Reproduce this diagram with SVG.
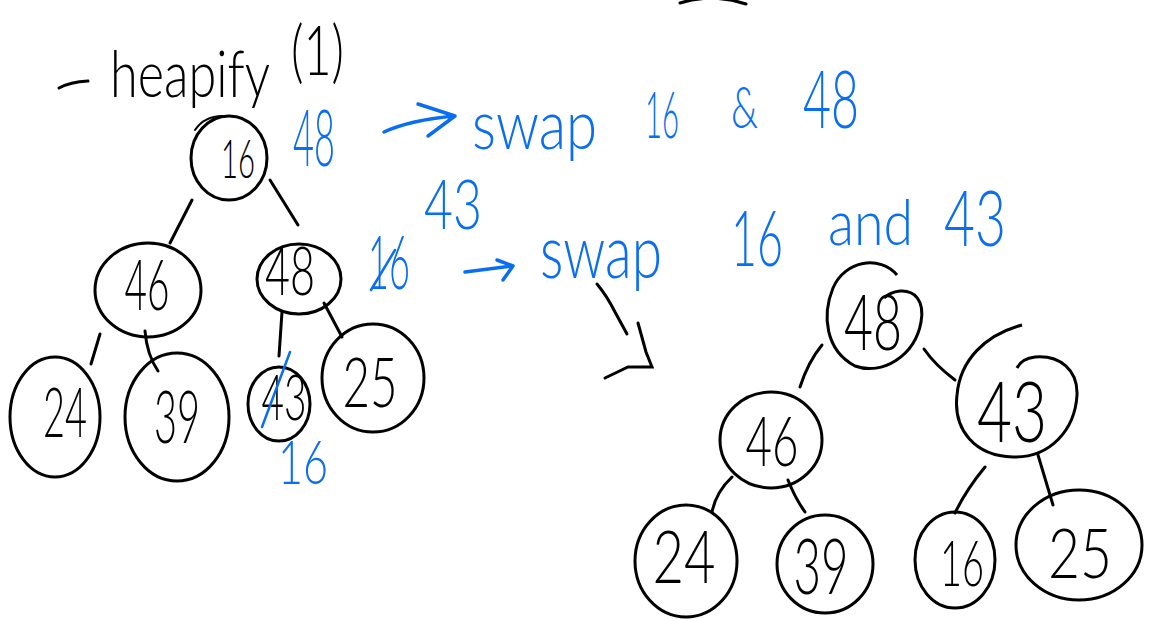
<svg xmlns="http://www.w3.org/2000/svg" width="1151" height="619" viewBox="0 0 1151 619">
<style>
.n{fill:none;stroke:#000;stroke-width:3}
.c{fill:none;stroke:#000;stroke-width:3;stroke-linecap:round}
.t{font-family:"Lato","Liberation Sans",sans-serif;font-weight:300;fill:#000;text-anchor:middle}
.k{font-family:"Lato","Liberation Sans",sans-serif;font-weight:300;fill:#000}
.b{font-family:"Lato","Liberation Sans",sans-serif;font-weight:300;fill:#0A6EF5}
.bl{fill:none;stroke:#0A6EF5;stroke-width:3.5;stroke-linecap:round;stroke-linejoin:round}
</style>
<rect width="1151" height="619" fill="#fff"/>
<!-- title -->
<path class="c" d="M59,88 Q70,82 88,81"/>
<text class="k" x="0" y="0" transform="translate(110,97) scale(1,1.29)" font-size="51" textLength="160" lengthAdjust="spacingAndGlyphs">heapify</text>
<text class="k" x="0" y="0" transform="translate(291,75) scale(1,1.55)" font-size="44" textLength="53" lengthAdjust="spacingAndGlyphs">(1)</text>
<path class="c" d="M680,3 Q712,-7 746,4"/>

<g id="connectors">
<path class="c" d="M192,200 L170,243"/>
<path class="c" d="M270,180 L298,225"/>
<path class="c" d="M100,334 L91,364"/>
<path class="c" d="M145,331 Q147,355 158,371"/>
<path class="c" d="M282,312 L279,356"/>
<path class="c" d="M324,303 L342,337"/>
<path class="c" d="M822,345 Q808,362 800,387"/>
<path class="c" d="M924,349 Q935,365 955,380"/>
<path class="c" d="M732,477 Q716,492 712,512"/>
<path class="c" d="M788,480 Q795,498 805,512"/>
<path class="c" d="M985,467 Q966,490 955,513"/>
<path class="c" d="M1038,455 L1053,505"/>
</g>

<!-- left tree -->
<g id="L16"><ellipse class="n" cx="229" cy="158" rx="38" ry="42"/><path class="c" d="M195,130 Q205,115 225,116" style="stroke-width:2"/><text class="t" x="238" y="178" font-size="54" textLength="34" lengthAdjust="spacingAndGlyphs">16</text></g>
<g id="L46"><ellipse class="n" cx="148" cy="290" rx="53" ry="47"/><text class="t" x="147" y="310" font-size="70" textLength="45" lengthAdjust="spacingAndGlyphs">46</text></g>
<g id="L48"><ellipse class="n" cx="299" cy="279" rx="42" ry="35"/><text class="t" x="290" y="295" font-size="67" textLength="50" lengthAdjust="spacingAndGlyphs">48</text></g>
<g id="L24"><ellipse class="n" cx="55" cy="417" rx="45" ry="60"/><text class="t" x="65" y="437" font-size="68" textLength="44" lengthAdjust="spacingAndGlyphs">24</text></g>
<g id="L39"><ellipse class="n" cx="177" cy="417" rx="52" ry="64"/><text class="t" x="177" y="443" font-size="72" textLength="46" lengthAdjust="spacingAndGlyphs">39</text></g>
<g id="L43"><ellipse class="n" cx="279" cy="404" rx="31" ry="37"/><text class="t" x="0" y="0" transform="translate(284,420) scale(1,1.6)" font-size="39" textLength="45" lengthAdjust="spacingAndGlyphs">43</text><path class="bl" d="M262,427 L290,352" style="stroke-width:2.5"/></g>
<g id="L25"><ellipse class="n" cx="373" cy="378" rx="51" ry="54"/><text class="t" x="370" y="407" font-size="68" textLength="55" lengthAdjust="spacingAndGlyphs">25</text></g>

<!-- right tree -->
<g id="R48"><path class="n" d="M897,275 C880,255 845,260 833,288 C822,315 825,350 855,366 C882,376 915,356 921,322 C925,300 914,290 900,291 C892,292 887,295 884,298"/><text class="t" x="873" y="350" font-size="76" textLength="58" lengthAdjust="spacingAndGlyphs">48</text></g>
<g id="R43"><path class="n" d="M1022,325 C985,335 960,360 957,395 C953,430 975,456 1013,457 C1050,458 1075,430 1077,395 C1078,370 1060,355 1035,357 C1026,358 1020,362 1017,368"/><text class="t" x="1012" y="442" font-size="84" textLength="70" lengthAdjust="spacingAndGlyphs">43</text></g>
<g id="R46"><ellipse class="n" cx="771" cy="440" rx="51" ry="48"/><text class="t" x="772" y="466" font-size="68" textLength="53" lengthAdjust="spacingAndGlyphs">46</text></g>
<g id="R24"><ellipse class="n" cx="686" cy="561" rx="51" ry="56"/><text class="t" x="684" y="583" font-size="72" textLength="63" lengthAdjust="spacingAndGlyphs">24</text></g>
<g id="R39"><ellipse class="n" cx="825" cy="564" rx="48" ry="49"/><text class="t" x="821" y="594" font-size="76" textLength="55" lengthAdjust="spacingAndGlyphs">39</text></g>
<g id="R16"><ellipse class="n" cx="955" cy="560" rx="40" ry="48"/><text class="t" x="962" y="586" font-size="64" textLength="44" lengthAdjust="spacingAndGlyphs">16</text></g>
<g id="R25"><ellipse class="n" cx="1079" cy="545" rx="63" ry="55"/><text class="t" x="1080" y="578" font-size="68" textLength="64" lengthAdjust="spacingAndGlyphs">25</text></g>

<!-- blue annotations -->
<text class="b" x="293" y="166" font-size="78" textLength="42" lengthAdjust="spacingAndGlyphs">48</text>
<path class="bl" d="M384,132 Q410,120 455,116 M418,104 L455,116 L428,136"/>
<text class="b" x="472" y="149" font-size="68" textLength="125" lengthAdjust="spacingAndGlyphs">swap</text>
<text class="b" x="645" y="138" font-size="66" textLength="34" lengthAdjust="spacingAndGlyphs">16</text>
<text class="b" x="731" y="128" font-size="58" textLength="27" lengthAdjust="spacingAndGlyphs">&amp;</text>
<text class="b" x="803" y="128" font-size="80" textLength="56" lengthAdjust="spacingAndGlyphs">48</text>
<text class="b" x="0" y="0" transform="translate(368,289) scale(1,2.1)" font-size="36" textLength="42" lengthAdjust="spacingAndGlyphs">16</text>
<path class="bl" d="M371,290 L395,250" style="stroke-width:2.5"/>
<text class="b" x="0" y="0" transform="translate(424,229) scale(1,1.36)" font-size="50" textLength="58" lengthAdjust="spacingAndGlyphs">43</text>
<path class="bl" d="M465,272 L512,266 M497,260 L513,266 L503,280"/>
<text class="b" x="540" y="278" font-size="74" textLength="122" lengthAdjust="spacingAndGlyphs">swap</text>
<text class="b" x="731" y="266" font-size="76" textLength="52" lengthAdjust="spacingAndGlyphs">16</text>
<text class="b" x="828" y="245" font-size="64" textLength="85" lengthAdjust="spacingAndGlyphs">and</text>
<text class="b" x="944" y="246" font-size="76" textLength="62" lengthAdjust="spacingAndGlyphs">43</text>
<text class="b" x="0" y="0" transform="translate(278,484) scale(1,1.4)" font-size="43" textLength="50" lengthAdjust="spacingAndGlyphs">16</text>

<!-- black arrow -->
<path class="c" d="M597,284 Q607,296 615,312 L627,334 M638,323 L646,352 L652,367 L628,367 L605,378"/>
</svg>
